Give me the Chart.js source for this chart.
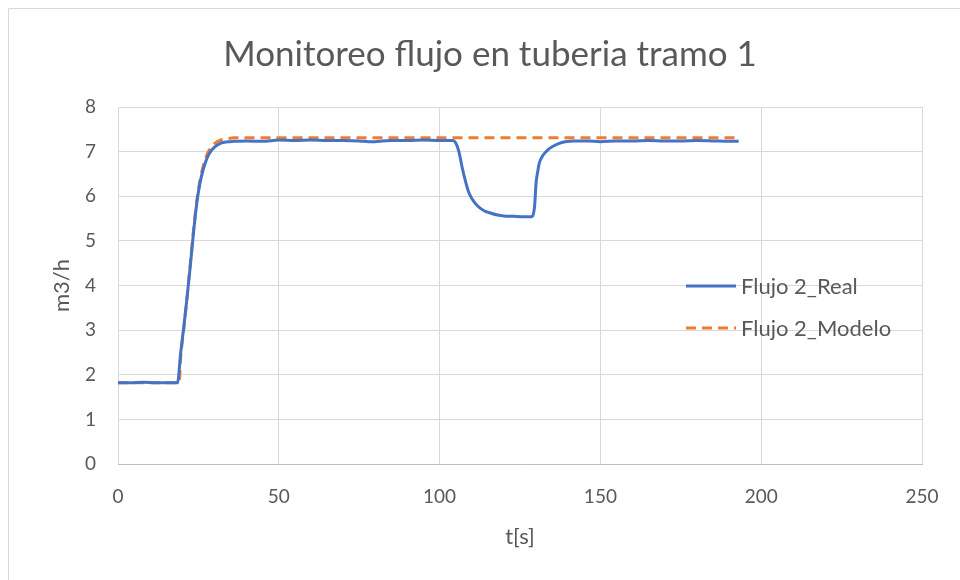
<!DOCTYPE html>
<html>
<head>
<meta charset="utf-8">
<script src="https://cdn.jsdelivr.net/npm/chart.js@4"></script>
<style>
  html, body { margin: 0; padding: 0; background: #fff; }
  #wrap { width: 960px; height: 580px; }
</style>
</head>
<body>
<div id="wrap"><canvas id="myChart" width="960" height="580"></canvas></div>
<script>
// t[s] and m3/h
const timeReal = [0, 4, 8, 12, 16, 18.5, 19.5, 20.5, 21.5, 22.5, 23.5, 24.5, 25.5, 26.5, 27.5, 28.5, 30, 32, 34, 36,
  40, 45, 50, 55, 60, 65, 70, 75, 78, 80, 82, 85, 90, 95, 100, 104, 105, 106, 107, 108, 109, 110, 112, 114,
  116, 118, 120, 123, 126, 128.5, 129.5, 130, 130.5, 131, 132, 133, 134, 135, 137, 139, 142, 146, 150, 155,
  160, 165, 170, 175, 180, 185, 190, 193];
const flowReal = [1.82, 1.82, 1.83, 1.82, 1.82, 1.82, 2.5, 3.1, 3.75, 4.45, 5.2, 5.85, 6.3, 6.6, 6.82, 6.97, 7.1, 7.19, 7.22, 7.23,
  7.24, 7.23, 7.26, 7.25, 7.26, 7.25, 7.25, 7.24, 7.22, 7.22, 7.24, 7.25, 7.25, 7.26, 7.25, 7.25, 7.2, 7.0, 6.65, 6.35, 6.1, 5.95, 5.77, 5.67,
  5.62, 5.58, 5.56, 5.55, 5.54, 5.54, 5.75, 6.3, 6.55, 6.74, 6.9, 6.99, 7.06, 7.11, 7.18, 7.22, 7.24, 7.24, 7.22, 7.24,
  7.24, 7.25, 7.24, 7.24, 7.25, 7.24, 7.23, 7.23];

const timeModel = [0, 10, 19, 19.5, 20.5, 21.5, 22.5, 23.5, 24.5, 25.5, 26.5, 27.5, 28.5, 30, 32, 34, 36, 50, 100, 150, 193];
const flowModel = [1.82, 1.82, 1.82, 2.4, 3.05, 3.75, 4.5, 5.25, 5.9, 6.35, 6.68, 6.9, 7.05, 7.18, 7.26, 7.29, 7.31, 7.31, 7.31, 7.31, 7.31];

const xTicks = [0, 50, 100, 150, 200, 250];
const yTicks = [0, 1, 2, 3, 4, 5, 6, 7, 8];

const chartTitle = 'Monitoreo flujo en tuberia tramo 1';

const FONT = 'Lato, "Open Sans", sans-serif';
const GREY = '#595959';

const toPoints = (xs, ys) => xs.map((x, i) => ({ x: x, y: ys[i] }));

// Excel style legend sitting inside the plot area
const insideLegend = {
  id: 'insideLegend',
  afterDatasetsDraw(chart) {
    const { ctx, chartArea } = chart;
    const x0 = chartArea.left + 568;
    const rows = [chartArea.top + 179, chartArea.top + 221];
    ctx.save();
    ctx.font = '22px ' + FONT;
    ctx.textBaseline = 'middle';
    chart.data.datasets.forEach((ds, i) => {
      const y = rows[i];
      ctx.strokeStyle = ds.borderColor;
      ctx.lineWidth = 3;
      ctx.setLineDash(ds.borderDash || []);
      ctx.beginPath();
      ctx.moveTo(x0, y);
      ctx.lineTo(x0 + 50, y);
      ctx.stroke();
      ctx.setLineDash([]);
      ctx.fillStyle = GREY;
      ctx.fillText(ds.label, x0 + 55, y + 1);
    });
    ctx.restore();
  }
};

// faint sheet edge and the title, centred on the whole sheet like Excel does
const sheetEdge = {
  id: 'sheetEdge',
  beforeDraw(chart) {
    const { ctx, width, height } = chart;
    ctx.save();
    ctx.fillStyle = '#fff';
    ctx.fillRect(0, 0, width, height);
    ctx.strokeStyle = '#d9d9d9';
    ctx.lineWidth = 1;
    ctx.beginPath();
    ctx.moveTo(8.5, height);
    ctx.lineTo(8.5, 8.5);
    ctx.lineTo(width, 8.5);
    ctx.stroke();
    ctx.font = '35px ' + FONT;
    ctx.fillStyle = GREY;
    ctx.textAlign = 'center';
    ctx.textBaseline = 'middle';
    ctx.fillText(chartTitle, 490, 55);
    ctx.restore();
  }
};

new Chart(document.getElementById('myChart'), {
  type: 'scatter',
  data: {
    datasets: [{
      label: 'Flujo 2_Real',
      data: toPoints(timeReal, flowReal),
      showLine: true,
      borderColor: '#4472C4',
      borderWidth: 3,
      pointRadius: 0,
      cubicInterpolationMode: 'monotone'
    }, {
      label: 'Flujo 2_Modelo',
      data: toPoints(timeModel, flowModel),
      showLine: true,
      borderColor: '#ED7D31',
      borderWidth: 3,
      borderDash: [10, 6],
      pointRadius: 0,
      cubicInterpolationMode: 'monotone'
    }]
  },
  options: {
    responsive: false,
    animation: false,
    layout: { padding: { left: 0, right: 38, top: 107, bottom: 0 } },
    plugins: {
      legend: { display: false },
      tooltip: { enabled: false },
      title: { display: false }
    },
    scales: {
      x: {
        type: 'linear',
        min: 0,
        max: 250,
        afterBuildTicks: s => { s.ticks = xTicks.map(v => ({ value: v })); },
        afterFit: s => { s.height = 116; },
        grid: { color: '#d9d9d9', drawTicks: false },
        border: { color: '#bfbfbf' },
        ticks: { color: GREY, padding: 21, font: { family: FONT, size: 19 } },
        title: {
          display: true,
          text: 't[s]',
          color: GREY,
          font: { family: FONT, size: 22, lineHeight: 1.2 },
          padding: { bottom: 30 }
        }
      },
      y: {
        min: 0,
        max: 8,
        afterBuildTicks: s => { s.ticks = yTicks.map(v => ({ value: v })); },
        afterFit: s => { s.width = 118; },
        grid: { color: '#d9d9d9', drawTicks: false },
        border: { display: false },
        ticks: { color: GREY, padding: 22, font: { family: FONT, size: 19 } },
        title: {
          display: true,
          text: 'm3/h',
          color: GREY,
          font: { family: FONT, size: 22, lineHeight: 1.2 },
          padding: { top: 49 }
        }
      }
    }
  },
  plugins: [sheetEdge, insideLegend]
});
</script>
</body>
</html>
